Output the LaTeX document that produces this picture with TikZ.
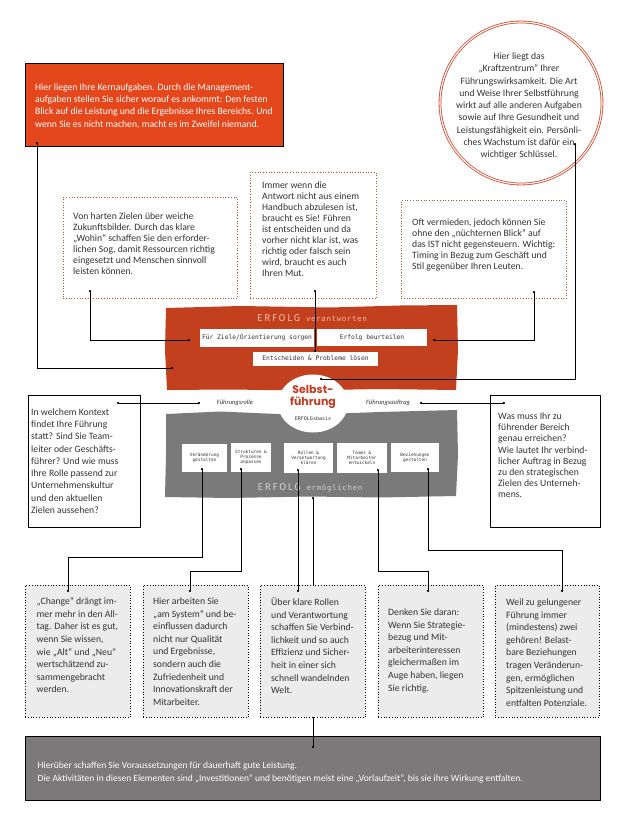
\documentclass[tikz,border=0pt]{standalone}
\usepackage{fontspec}
\setmainfont{Carlito}
\newfontfamily\handfont{Fira Sans}
\newfontfamily\hmono{DejaVu Sans Mono}
\newfontfamily\popfont{Poppins}
\usetikzlibrary{arrows.meta}
\definecolor{orng}{HTML}{E4471C}
\definecolor{redband}{HTML}{C2401D}
\definecolor{grayband}{HTML}{7A7A7A}
\definecolor{barfill}{HTML}{7B7979}
\definecolor{boxfill}{HTML}{ECECEC}
\definecolor{dotbrown}{HTML}{B5582E}
\definecolor{txtgray}{HTML}{333333}
\definecolor{circred}{HTML}{D9472D}
\definecolor{lightred}{HTML}{F3B9A2}
\definecolor{lightgray}{HTML}{CFCFCF}
\definecolor{selbstred}{HTML}{C23B1E}
\begin{document}
\begin{tikzpicture}[x=1pt,y=-1pt,
  body/.style={anchor=north west, inner sep=0pt, align=left, text=txtgray, font=\fontsize{9.7}{#1}\selectfont},
  body/.default=11.2,
  dotbox/.style={draw=dotbrown, dotted, line width=0.7pt, fill=white, anchor=north west, inner sep=0pt},
  graybox/.style={draw=black, dotted, line width=0.7pt, fill=boxfill, anchor=north west, inner sep=0pt},
  solidbox/.style={draw=black, line width=0.6pt, fill=white, anchor=north west, inner sep=0pt},
  wbox/.style={fill=white, inner sep=0pt, font=\hmono\fontsize{6.3}{7}\selectfont, text=txtgray, align=center},
  smallbox/.style={fill=white, inner sep=0pt, font=\hmono\fontsize{4.4}{5.2}\selectfont, text=txtgray, align=center},
  conn/.style={draw=black, line width=0.6pt, {Circle[length=2.2pt]}-{Circle[length=2.2pt]}},
  lbl/.style={inner sep=0pt, font=\itshape\fontsize{6.5}{7}\selectfont, text=txtgray}
]
\useasboundingbox (0,0) rectangle (641,818);
\fill[white] (0,0) rectangle (641,818);

% ---------- top orange box ----------
\node[draw=black, line width=0.6pt, fill=orng, anchor=north west, inner sep=0pt,
      minimum width=258, minimum height=83] (kern) at (25,63) {};
\node[anchor=north west, inner sep=0pt, align=left, text=white, font=\fontsize{9.7}{12.2}\selectfont] (kerntxt) at (35,83.5)
 {Hier liegen Ihre Kernaufgaben. Durch die  Management-\\
  aufgaben stellen Sie sicher worauf es ankommt: Den festen\\
  Blick auf die Leistung und die Ergebnisse Ihres Bereichs. Und\\
  wenn Sie es nicht machen, macht es im Zweifel niemand.};

% ---------- top circle ----------
\node[circle, draw=circred, double=white, double distance=1.1pt, line width=0.8pt, minimum size=162, inner sep=0pt] (circ) at (521,103) {};
\node[anchor=north, inner sep=0pt, align=center, text=txtgray, font=\fontsize{9.7}{12.3}\selectfont] (circtxt) at (519,52.5)
 {Hier liegt das\\
  „Kraftzentrum“ Ihrer\\
  Führungswirksamkeit. Die Art\\
  und Weise Ihrer Selbstführung\\
  wirkt auf alle anderen Aufgaben\\
  sowie auf Ihre  Gesundheit und\\
  Leistungsfähigkeit ein. Persönli-\\
  ches Wachstum ist dafür ein\\
  wichtiger Schlüssel.};

% ---------- three dotted boxes ----------
\node[dotbox, minimum width=174, minimum height=101] (b1) at (63,197) {};
\node[body=11.1] (b1txt) at (73,212.5)
 {Von harten Zielen über  weiche\\
  Zukunftsbilder. Durch das klare\\
  „Wohin“ schaffen Sie  den erforder-\\
  lichen Sog, damit Ressourcen richtig\\
  eingesetzt  und Menschen sinnvoll\\
  leisten können.};

\node[dotbox, minimum width=126, minimum height=126] (b2) at (250,172) {};
\node[body=11] (b2txt) at (262,181.5)
 {Immer wenn die\\
  Antwort nicht aus einem\\
  Handbuch abzulesen ist,\\
  braucht es Sie! Führen\\
  ist entscheiden und da\\
  vorher nicht klar ist, was\\
  richtig oder falsch sein\\
  wird, braucht es auch\\
  Ihren Mut.};

\node[dotbox, minimum width=165, minimum height=98] (b3) at (401,200) {};
\node[body=11.1] (b3txt) at (412,218.5)
 {Oft vermieden, jedoch können Sie\\
  ohne den „nüchternen Blick“ auf\\
  das IST nicht gegensteuern. Wichtig:\\
  Timing in Bezug zum Geschäft und\\
  Stil gegenüber Ihren Leuten.};

% ---------- red band ----------
\fill[redband] (166,308) -- (240,306) -- (330,307.5) -- (400,305.5) -- (457,305)
  -- (458,350) -- (456,390) -- (380,389) -- (300,390.5) -- (230,389.5) -- (167,390)
  -- (165,350) -- cycle;
% ---------- gray band ----------
\fill[grayband] (166,414) -- (220,411.5) -- (300,415) -- (380,412) -- (457,410)
  -- (458,455) -- (456,496) -- (380,497.5) -- (310,496.5) -- (230,498) -- (165,497)
  -- (166,455) -- cycle;
% ---------- Selbstfuehrung ellipse ----------
\fill[white] (313,403.5) ellipse [x radius=35, y radius=29];
\node[inner sep=0pt, align=center, text=selbstred, font=\popfont\bfseries\fontsize{11}{12.5}\selectfont] (selbst) at (313,397)
 {Selbst-\\führung};
\node[inner sep=0pt, text=txtgray, font=\hmono\fontsize{5}{6}\selectfont] (basis) at (313,418.5) {ERFOLGsbasis};

\node[inner sep=0pt, text=lightred] (erfv) at (312,318.5)
 {{\handfont\addfontfeature{LetterSpace=18}\fontsize{10}{11}\selectfont ERFOLG}\hspace{6pt}{\hmono\addfontfeature{LetterSpace=8}\fontsize{7.5}{9}\selectfont verantworten}};
\node[wbox, minimum width=114, minimum height=18] (zf) at (257,338) {Für Ziele/Orientierung sorgen};
\node[wbox, minimum width=110, minimum height=17] (eb) at (372,337.5) {Erfolg beurteilen};
\node[wbox, minimum width=125, minimum height=14] (ep) at (315.5,358.5) {Entscheiden \& Probleme lösen};

\node[lbl] (frolle) at (235,402.5) {Führungsrolle};
\node[lbl] (fauftrag) at (388,402.5) {Führungsauftrag};

\node[smallbox, minimum width=45, minimum height=28] (g1) at (204.5,458) {Veränderung\\gestalten};
\node[smallbox, minimum width=40, minimum height=29] (g2) at (251,457.5) {Strukturen \&\\Prozesse\\anpassen};
\node[smallbox, minimum width=49, minimum height=30] (g3) at (308.5,458) {Rollen \&\\Verantwortung\\klären};
\node[smallbox, minimum width=50, minimum height=30] (g4) at (362,458) {Teams \&\\Mitarbeiter\\entwickeln};
\node[smallbox, minimum width=48, minimum height=29] (g5) at (415,457.5) {Beziehungen\\gestalten};
\node[inner sep=0pt, text=lightgray] (erfm) at (310,488)
 {{\handfont\addfontfeature{LetterSpace=18}\fontsize{10}{11}\selectfont ERFOLG}\hspace{6pt}{\hmono\addfontfeature{LetterSpace=8}\fontsize{7.5}{9}\selectfont ermöglichen}};

% ---------- side boxes ----------
\node[solidbox, minimum width=112, minimum height=132] (b4) at (28,395) {};
\node[body=12.25] (b4txt) at (31,408.5)
 {In welchem Kontext\\
  findet Ihre Führung\\
  statt? Sind Sie Team-\\
  leiter oder Geschäfts-\\
  führer? Und wie muss\\
  Ihre  Rolle passend zur\\
  Unternehmenskultur\\
  und den aktuellen\\
  Zielen aussehen?};
\node[solidbox, minimum width=110, minimum height=132] (b5) at (490,395) {};
\node[body=11.2] (b5txt) at (498,412.5)
 {Was muss Ihr zu\\
  führender Bereich\\
  genau erreichen?\\
  Wie lautet Ihr verbind-\\
  licher Auftrag in Bezug\\
  zu den strategischen\\
  Zielen des Unterneh-\\
  mens.};

% ---------- bottom bar ----------
\node[draw=black, line width=0.6pt, fill=barfill, anchor=north west, inner sep=0pt,
      minimum width=575, minimum height=64] (bar) at (25,736) {};
\node[anchor=north west, inner sep=0pt, align=left, text=white, font=\fontsize{9.5}{13}\selectfont] (bartxt) at (37.5,761.5)
 {Hierüber schaffen Sie  Voraussetzungen für dauerhaft gute Leistung.\\
  Die Aktivitäten in diesen Elementen sind „Investitionen“ und benötigen meist eine „Vorlaufzeit“, bis sie ihre Wirkung entfalten.};

% connector behind box C
\coordinate (ermd) at (313,497);
\coordinate (bard) at (313,748);
\draw[conn] (ermd) -- (bard);

% ---------- bottom boxes ----------
\node[graybox, minimum width=105, minimum height=132] (bA) at (25,585) {};
\node[body=12.6] (bAtxt) at (36.5,597.5)
 {„Change“ drängt im-\\
  mer mehr in den All-\\
  tag. Daher ist es gut,\\
  wenn Sie wissen,\\
  wie  „Alt“ und „Neu“\\
  wertschätzend zu-\\
  sammengebracht\\
  werden.};
\node[graybox, minimum width=105, minimum height=132] (bB) at (143,585) {};
\node[body=12.6] (bBtxt) at (153,597.5)
 {Hier arbeiten Sie\\
  „am System“ und be-\\
  einflussen dadurch\\
  nicht nur Qualität\\
  und Ergebnisse,\\
  sondern auch die\\
  Zufriedenheit und\\
  Innovationskraft der\\
  Mitarbeiter.};
\node[graybox, minimum width=105, minimum height=132] (bC) at (260,585) {};
\node[body=12.6] (bCtxt) at (271,597.5)
 {Über klare Rollen\\
  und Verantwortung\\
  schaffen Sie Verbind-\\
  lichkeit und so auch\\
  Effizienz und Sicher-\\
  heit in einer sich\\
  schnell wandelnden\\
  Welt.};
\node[graybox, minimum width=105, minimum height=132] (bD) at (378,585) {};
\node[body=12.6] (bDtxt) at (388,608.5)
 {Denken Sie daran:\\
  Wenn Sie Strategie-\\
  bezug und Mit-\\
  arbeiterinteressen\\
  gleichermaßen im\\
  Auge haben, liegen\\
  Sie  richtig.};
\node[graybox, minimum width=104, minimum height=132] (bE) at (495,585) {};
\node[body=12.6] (bEtxt) at (506,598.5)
 {Weil zu gelungener\\
  Führung immer\\
  (mindestens) zwei\\
  gehören! Belast-\\
  bare Beziehungen\\
  tragen Veränderun-\\
  gen, ermöglichen\\
  Spitzenleistung und\\
  entfalten Potenziale.};

% ---------- connectors ----------
\coordinate (k1) at (37,142);   \coordinate (k2) at (173,368);
\draw[conn] (k1) |- (k2);
\coordinate (b1d) at (90,290);  \coordinate (zfd) at (190,340);
\draw[conn] (b1d) |- (zfd);
\coordinate (b2d) at (315,290); \coordinate (epd) at (315,352);
\draw[conn] (b2d) -- (epd);
\coordinate (b3d) at (534,291); \coordinate (ebd) at (433,340);
\draw[conn] (b3d) |- (ebd);
\coordinate (cd) at (575,143);  \coordinate (sd) at (320,379);
\draw[conn] (cd) |- (sd);
\coordinate (b4d) at (117,403); \coordinate (frd) at (200,403);
\draw[conn] (b4d) -- (frd);
\coordinate (b5d) at (505,403); \coordinate (fad) at (420,403);
\draw[conn] (b5d) -- (fad);

\coordinate (g1d) at (202,468); \coordinate (g1b) at (202,557); \coordinate (aD) at (68,592);
\draw[conn] (g1d) -- (g1b) -| (aD);
\coordinate (g2d) at (241,468); \coordinate (g2b) at (241,571); \coordinate (bDd) at (190,592);
\draw[conn] (g2d) -- (g2b) -| (bDd);
\coordinate (g3d) at (298,469); \coordinate (cDd) at (298,592);
\draw[conn] (g3d) -- (cDd);
\coordinate (g4d) at (378,469); \coordinate (g4b) at (378,571); \coordinate (dDd) at (428,592);
\draw[conn] (g4d) -- (g4b) -| (dDd);
\coordinate (g5d) at (428,468); \coordinate (g5b) at (428,550); \coordinate (eDd) at (562,592);
\draw[conn] (g5d) -- (g5b) -| (eDd);
\end{tikzpicture}
\end{document}
